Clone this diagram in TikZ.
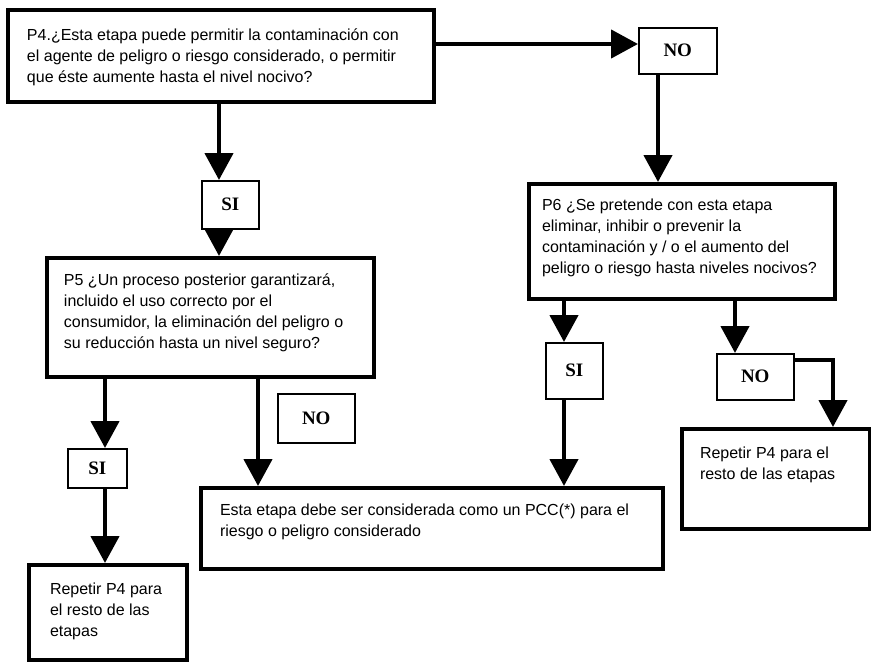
\documentclass[tikz,border=0pt]{standalone}
\usepackage{fontspec}
\setmainfont{Liberation Sans}
\newfontfamily\lblserif{Liberation Serif}
\usetikzlibrary{arrows.meta}
\newcommand{\qtext}[5]{\parbox[c][#2][t]{#1}{\raggedright\leftskip=#3\relax\fontsize{16}{21}\selectfont\vspace*{#4}#5}}
\begin{document}
\begin{tikzpicture}[x=1pt,y=-1pt,
  qbox/.style={draw, line width=4pt, inner sep=0pt, anchor=north west},
  lbl/.style={draw, line width=1.5pt, inner sep=0pt, anchor=north west, font=\lblserif\bfseries\fontsize{19}{22}\selectfont},
  arr/.style={line width=4.5pt, -{Triangle[length=27pt,width=28pt]}},
]
\fill[white] (0,0) rectangle (871,665);
\useasboundingbox (0,0) rectangle (871,665);

% question and result boxes
\node[qbox] (p4) at (6,8) {\qtext{426pt}{92pt}{19pt}{19pt}{P4.¿Esta etapa puede permitir la contaminación con\\el agente de peligro o riesgo considerado, o permitir\\que éste aumente hasta el nivel nocivo?}};
\node[qbox] (p5) at (45,256) {\qtext{327pt}{119pt}{17pt}{16pt}{P5 ¿Un proceso posterior garantizará,\\incluido el uso correcto por el\\consumidor, la eliminación del peligro o\\su reducción hasta un nivel seguro?}};
\node[qbox] (p6) at (527,182) {\qtext{306pt}{115pt}{13pt}{15pt}{P6 ¿Se pretende con esta etapa\\eliminar, inhibir o prevenir la\\contaminación y / o el aumento del\\peligro o riesgo hasta niveles nocivos?}};
\node[qbox] (pcc) at (199,486) {\qtext{462pt}{81pt}{19pt}{16pt}{Esta etapa debe ser considerada como un PCC(*) para el\\riesgo o peligro considerado}};
\node[qbox] (rep1) at (27,563) {\qtext{158pt}{95pt}{21pt}{18pt}{Repetir P4 para\\el resto de las\\etapas}};
\node[qbox] (rep2) at (680,427) {\qtext{188pt}{100pt}{18pt}{18pt}{Repetir P4 para el\\resto de las etapas}};

% answer labels
\node[lbl, minimum width=78pt, minimum height=46pt] (no1) at (638,27) {NO};
\node[lbl, minimum width=57pt, minimum height=48pt] (si1) at (201,180) {SI};
\node[lbl, minimum width=57pt, minimum height=56pt] (si2) at (545,342) {SI};
\node[lbl, minimum width=77pt, minimum height=46pt] (no2) at (716,353) {NO};
\node[lbl, minimum width=77pt, minimum height=49pt] (no3) at (277,393) {NO};
\node[lbl, minimum width=59pt, minimum height=39pt] (si3) at (67,448) {SI};

% connector guide coordinates
\coordinate (xa) at (219,0);
\coordinate (ya) at (0,44);
\coordinate (xb) at (658,0);
\coordinate (xc) at (564,0);
\coordinate (xd) at (735,0);
\coordinate (ye) at (0,360);
\coordinate (xe) at (833,0);
\coordinate (xf) at (105,0);
\coordinate (xg) at (258,0);

% connectors
\draw[arr] (xa |- p4.south) -- (xa |- si1.north);
\draw[arr] (xa |- si1.south) -- (xa |- p5.north);
\draw[arr] (p4.east |- ya) -- (no1.west |- ya);
\draw[arr] (xb |- no1.south) -- (xb |- p6.north);
\draw[arr] (xc |- p6.south) -- (xc |- si2.north);
\draw[arr] (xc |- si2.south) -- (xc |- pcc.north);
\draw[arr] (xd |- p6.south) -- (xd |- no2.north);
\draw[arr] (no2.east |- ye) -| (xe |- rep2.north);
\draw[arr] (xf |- p5.south) -- (xf |- si3.north);
\draw[arr] (xf |- si3.south) -- (xf |- rep1.north);
\draw[arr] (xg |- p5.south) -- (xg |- pcc.north);
\end{tikzpicture}
\end{document}
